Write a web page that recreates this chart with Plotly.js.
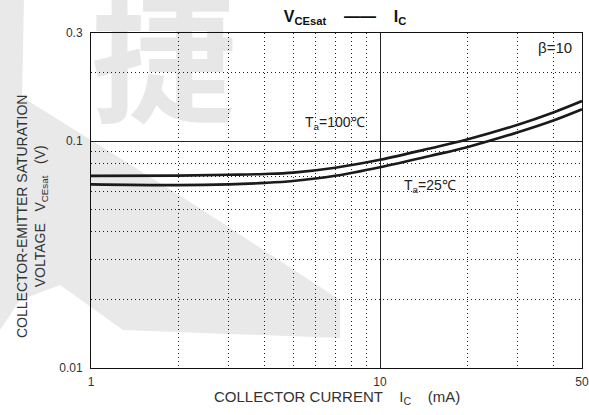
<!DOCTYPE html>
<html>
<head>
<meta charset="utf-8">
<script src="https://cdn.plot.ly/plotly-3.0.1.min.js"></script>
<style>html,body{margin:0;padding:0;background:#fff;}#chart{width:589px;height:415px;}</style>
</head>
<body>
<div id="chart"></div>
<script>
// Collector current (mA)
var currentMA = [1, 2, 3, 4, 5, 7, 10, 15, 20, 30, 40, 50];
// VCE(sat) (V) at Ta = 100 °C (upper curve)
var vce100 = [0.0703, 0.0705, 0.0711, 0.0717, 0.0727, 0.0764, 0.0828, 0.0931, 0.1017, 0.1182, 0.1342, 0.1503];
// VCE(sat) (V) at Ta = 25 °C (lower curve)
var vce25 = [0.0645, 0.0640, 0.0645, 0.0655, 0.0668, 0.0704, 0.0768, 0.0863, 0.0941, 0.1095, 0.1237, 0.1383];

var xMajorTicks = [1, 10, 50];
var xMajorLabels = ["1", "10", "50"];
var xMinorTicks = [2, 3, 4, 5, 6, 7, 8, 9, 20, 30, 40];
var yMajorTicks = [0.01, 0.1, 0.3];
var yMajorLabels = ["0.01", "0.1", "0.3"];
var yMinorTicks = [0.02, 0.03, 0.04, 0.05, 0.06, 0.07, 0.08, 0.09, 0.2];

var W = 589, H = 415, L = 91, R = 582, T = 33, B = 368;
function px(x) { return (x - L) / (R - L); }
function py(y) { return (B - y) / (B - T); }
function path(pts) {
  return pts.map(function (p, i) { return (i ? "L" : "M") + px(p[0]).toFixed(4) + "," + py(p[1]).toFixed(4); }).join(" ") + " Z";
}

var lineStyle = {color: "#1a1a1a", width: 2.6, shape: "spline", smoothing: 1};
var traces = [
  {x: currentMA, y: vce100, mode: "lines", line: lineStyle, name: "Ta=100℃", hoverinfo: "x+y", cliponaxis: false},
  {x: currentMA, y: vce25, mode: "lines", line: lineStyle, name: "Ta=25℃", hoverinfo: "x+y", cliponaxis: false}
];

var wm = "#e9e9e9";
var font = "Liberation Sans, Arial, sans-serif";
var layout = {
  width: W, height: H,
  margin: {l: L, r: W - R, t: T, b: H - B},
  paper_bgcolor: "#ffffff",
  plot_bgcolor: "rgba(0,0,0,0)",
  showlegend: false,
  font: {family: font, color: "#333333", size: 12},
  title: {
    text: "<b>V<sub>CEsat</sub>    ——    I<sub>C</sub></b>",
    font: {family: font, size: 16, color: "#111111"},
    x: 345 / W, xanchor: "center",
    y: 1 - 16 / H, yanchor: "middle", xref: "container", yref: "container"
  },
  xaxis: {
    type: "log", range: [0, Math.log10(50)],
    tickmode: "array", tickvals: xMajorTicks, ticktext: xMajorLabels,
    ticks: "", ticklabelstandoff: 3,
    showgrid: true, gridcolor: "#222222", gridwidth: 1,
    showline: true, mirror: true, linecolor: "#111111", linewidth: 1,
    zeroline: false,
    tickfont: {family: font, size: 12, color: "#333333"},
    minor: {tickmode: "array", tickvals: xMinorTicks, showgrid: true, gridcolor: "#222222", gridwidth: 1, griddash: "1px,3px", ticks: ""}
  },
  yaxis: {
    type: "log", range: [-2, Math.log10(0.3)],
    tickmode: "array", tickvals: yMajorTicks, ticktext: yMajorLabels,
    ticks: "", ticklabelstandoff: 5,
    showgrid: true, gridcolor: "#222222", gridwidth: 1,
    showline: true, mirror: true, linecolor: "#111111", linewidth: 1,
    zeroline: false,
    tickfont: {family: font, size: 12, color: "#333333"},
    minor: {tickmode: "array", tickvals: yMinorTicks, showgrid: true, gridcolor: "#222222", gridwidth: 1, griddash: "1px,3px", ticks: ""}
  },
  shapes: [
    {type: "path", xref: "paper", yref: "paper", layer: "below", fillcolor: wm, line: {width: 0},
     path: path([[0, 0], [24, 0], [22, 97], [187, 200], [340, 300], [340, 338], [123, 330], [60, 285], [20, 300], [0, 330]])}
  ],
  annotations: [
    {text: "捷", xref: "paper", yref: "paper", x: px(163), y: py(48), xanchor: "center", yanchor: "middle",
     showarrow: false, font: {family: "Noto Sans CJK SC", size: 145, color: "rgba(0,0,0,0.095)", weight: 700}},
    {text: "COLLECTOR CURRENT    I<sub>C</sub>    (mA)", xref: "paper", yref: "paper", x: px(337), y: py(397),
     xanchor: "center", yanchor: "middle", showarrow: false, font: {family: font, size: 15, color: "#333333"}},
    {text: "COLLECTOR-EMITTER SATURATION<br>VOLTAGE   V<sub>CEsat</sub>   (V)", xref: "paper", yref: "paper",
     x: px(32), y: py(217), xanchor: "center", yanchor: "middle", textangle: -90, showarrow: false,
     font: {family: font, size: 14, color: "#333333"}},
    {text: "β=10", xref: "paper", yref: "paper", x: px(555), y: py(47), xanchor: "center", yanchor: "middle",
     showarrow: false, font: {family: font, size: 15, color: "#222222"}},
    {text: "T<sub>a</sub>=100℃", xref: "paper", yref: "paper", x: px(335), y: py(123), xanchor: "center", yanchor: "middle",
     showarrow: false, font: {family: font, size: 14, color: "#222222"}},
    {text: "T<sub>a</sub>=25℃", xref: "paper", yref: "paper", x: px(430), y: py(186), xanchor: "center", yanchor: "middle",
     showarrow: false, font: {family: font, size: 14, color: "#222222"}}
  ]
};

Plotly.newPlot("chart", traces, layout, {displayModeBar: false, staticPlot: true});
</script>
</body>
</html>
